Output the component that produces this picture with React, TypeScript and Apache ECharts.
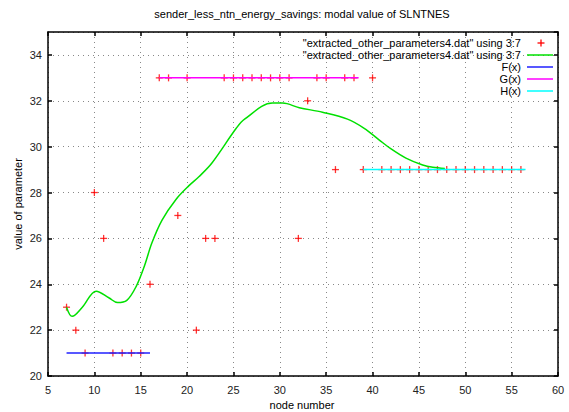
import React, { useEffect, useRef } from "react";
import * as echarts from "echarts";

// Scatter data: node number -> modal value
const nodeNumbers = [7, 8, 9, 10, 11, 12, 13, 14, 15, 16, 17, 18, 19, 20, 21, 22, 23, 24, 25, 26, 27, 28, 29, 30, 31, 32, 33, 34, 35, 36, 37, 38, 39, 40, 41, 42, 43, 44, 45, 46, 47, 48, 49, 50, 51, 52, 53, 54, 55, 56];
const modalValues = [23, 22, 21, 28, 26, 21, 21, 21, 21, 24, 33, 33, 27, 33, 22, 26, 26, 33, 33, 33, 33, 33, 33, 33, 33, 26, 32, 33, 33, 29, 33, 33, 29, 33, 29, 29, 29, 29, 29, 29, 29, 29, 29, 29, 29, 29, 29, 29, 29, 29];

// Smoothed curve
const smoothX = [7.0, 7.6, 8.7, 10.2, 11.6, 12.5, 13.5, 14.5, 15.4, 16.2, 17.3, 18.8, 20.2, 21.3, 22.7, 25.3, 26.2, 29.2, 30.3, 32.1, 34.6, 37.3, 39.1, 40.7, 42.0, 43.6, 45.4, 46.5, 47.8];
const smoothY = [23.0, 22.6, 23.0, 23.7, 23.4, 23.2, 23.3, 23.9, 24.8, 25.8, 26.8, 27.7, 28.3, 28.7, 29.3, 30.8, 31.2, 31.9, 31.9, 31.7, 31.5, 31.2, 30.8, 30.3, 29.9, 29.5, 29.2, 29.1, 29.05];

// Step functions F, G, H
const fRange = [7, 16];
const fValue = 21;
const gRange = [17, 38.5];
const gValue = 33;
const hRange = [39, 56.5];
const hValue = 29;

const legendLabels = [
  '"extracted_other_parameters4.dat" using 3:7',
  '"extracted_other_parameters4.dat" using 3:7',
  "F(x)",
  "G(x)",
  "H(x)",
];
const titleText = "sender_less_ntn_energy_savings: modal value of SLNTNES";
const xName = "node number";
const yName = "value of parameter";

const FONT = "Liberation Sans";

export default function App() {
  const ref = useRef<HTMLDivElement>(null);
  useEffect(() => {
    if (!ref.current) return;
    const chart = echarts.init(ref.current, null, { renderer: "svg" });
    const gridLeft = 48, gridTop = 32, gridRight = 558, gridBottom = 376;
    const legendY = [43, 55, 67, 79, 91];
    const colors = ["#ff0000", "#00e000", "#2020ff", "#ff00ff", "#00ffff"];
    const legendGraphics: any[] = [];
    legendLabels.forEach((t, i) => {
      legendGraphics.push({
        type: "text",
        x: 521,
        y: legendY[i],
        style: { text: t, fill: "#000", font: `11px "${FONT}"`, textAlign: "right", textVerticalAlign: "middle" },
        z: 100,
      });
      if (i === 0) {
        legendGraphics.push({ type: "line", shape: { x1: 537.5, y1: legendY[i], x2: 544.5, y2: legendY[i] }, style: { stroke: colors[0], lineWidth: 1.3 }, z: 100 });
        legendGraphics.push({ type: "line", shape: { x1: 541, y1: legendY[i] - 3.5, x2: 541, y2: legendY[i] + 3.5 }, style: { stroke: colors[0], lineWidth: 1.3 }, z: 100 });
      } else {
        legendGraphics.push({ type: "line", shape: { x1: 527, y1: legendY[i], x2: 553, y2: legendY[i] }, style: { stroke: colors[i], lineWidth: 1.5 }, z: 100 });
      }
    });

    const axisCommon = {
      type: "value" as const,
      axisLine: { show: true, lineStyle: { color: "#000", width: 1.5 } },
      axisTick: { show: true, inside: true, length: 4, lineStyle: { color: "#000", width: 1.5 } },
    };

    const pts = nodeNumbers.map((x, i) => [x, modalValues[i]]);

    chart.setOption({
      animation: false,
      backgroundColor: "#fff",
      grid: { left: gridLeft, top: gridTop, right: 569 - gridRight, bottom: 412 - gridBottom, containLabel: false },
      xAxis: [
        {
          ...axisCommon,
          min: 5, max: 60, interval: 5,
          position: "bottom",
          axisLabel: { color: "#222", fontSize: 11, fontFamily: FONT, margin: 8 },
          splitLine: { show: true, lineStyle: { color: "#888", type: [1, 4], width: 1 } },
        },
        {
          ...axisCommon,
          min: 5, max: 60, interval: 5,
          position: "top",
          axisLabel: { show: false },
          splitLine: { show: false },
        },
      ],
      yAxis: [
        {
          ...axisCommon,
          min: 20, max: 35, interval: 2,
          position: "left",
          axisLabel: { color: "#222", fontSize: 11, fontFamily: FONT, margin: 6, showMaxLabel: false },
          splitLine: { show: true, lineStyle: { color: "#888", type: [1, 4], width: 1 } },
        },
        {
          ...axisCommon,
          min: 20, max: 35, interval: 2,
          position: "right",
          axisLabel: { show: false },
          splitLine: { show: false },
        },
      ],
      series: [
        {
          type: "scatter",
          data: pts,
          symbol: "rect",
          symbolSize: [7, 1.3],
          itemStyle: { color: colors[0] },
          emphasis: { disabled: true },
          z: 2,
        },
        {
          type: "scatter",
          data: pts,
          symbol: "rect",
          symbolSize: [1.3, 7],
          itemStyle: { color: colors[0] },
          emphasis: { disabled: true },
          z: 2,
        },
        {
          type: "line",
          data: smoothX.map((x, i) => [x, smoothY[i]]),
          smooth: 0.35,
          showSymbol: false,
          lineStyle: { color: colors[1], width: 1.5 },
          z: 3,
        },
        {
          type: "line",
          data: fRange.map((x) => [x, fValue]),
          showSymbol: false,
          lineStyle: { color: colors[2], width: 1.5 },
          z: 3,
        },
        {
          type: "line",
          data: gRange.map((x) => [x, gValue]),
          showSymbol: false,
          lineStyle: { color: colors[3], width: 1.5 },
          z: 3,
        },
        {
          type: "line",
          data: hRange.map((x) => [x, hValue]),
          showSymbol: false,
          lineStyle: { color: colors[4], width: 1.5 },
          z: 3,
        },
      ],
      graphic: [
        {
          type: "text",
          x: 302,
          y: 14,
          style: { text: titleText, fill: "#000", font: `11px "${FONT}"`, textAlign: "center", textVerticalAlign: "middle" },
        },
        {
          type: "text",
          x: 302,
          y: 405,
          style: { text: xName, fill: "#000", font: `11px "${FONT}"`, textAlign: "center", textVerticalAlign: "middle" },
        },
        {
          type: "text",
          x: 18,
          y: 204,
          rotation: Math.PI / 2,
          style: { text: yName, fill: "#000", font: `11px "${FONT}"`, textAlign: "center", textVerticalAlign: "middle" },
        },
        ...legendGraphics,
      ],
    });
    return () => chart.dispose();
  }, []);
  return <div ref={ref} style={{ width: 569, height: 412, position: "absolute", left: 0, top: 0 }} />;
}
